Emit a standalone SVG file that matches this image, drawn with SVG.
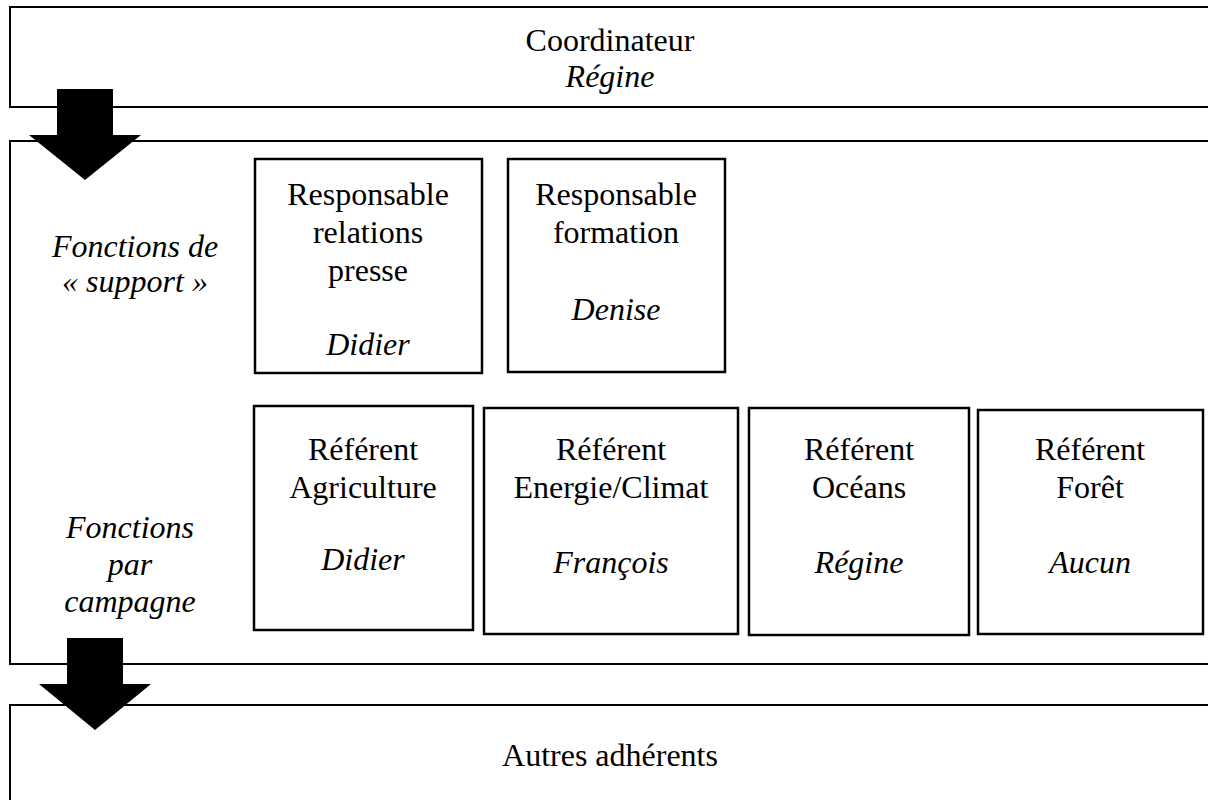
<svg xmlns="http://www.w3.org/2000/svg" width="1208" height="800" viewBox="0 0 1208 800">
  <style>
    .frame { fill: #fff; stroke: #000; stroke-width: 2; }
    .box { fill: #fff; stroke: #000; stroke-width: 2.5; }
    .arrow { fill: #000; stroke: none; }
    text { font-family: "Liberation Serif", "Times New Roman", serif; font-size: 32px; fill: #000; text-anchor: middle; }
    .it { font-style: italic; }
  </style>

  <!-- Top level: coordinator -->
  <g id="coordinateur">
    <rect class="frame" x="10" y="7" width="1220" height="100"/>
    <text x="610" y="51">Coordinateur</text>
    <text class="it" x="610" y="87">Régine</text>
  </g>

  <!-- Middle level: functions -->
  <g id="fonctions">
    <rect class="frame" x="10" y="141" width="1220" height="523"/>
  </g>

  <g id="label-support">
    <text class="it" x="135" y="257">Fonctions de</text>
    <text class="it" x="135" y="292">« support »</text>
  </g>

  <g id="label-campagne">
    <text class="it" x="130" y="538">Fonctions</text>
    <text class="it" x="130" y="575">par</text>
    <text class="it" x="130" y="612">campagne</text>
  </g>

  <g id="resp-presse">
    <rect class="box" x="255" y="159" width="227" height="214"/>
    <text x="368" y="205">Responsable</text>
    <text x="368" y="243">relations</text>
    <text x="368" y="281">presse</text>
    <text class="it" x="368" y="355">Didier</text>
  </g>

  <g id="resp-formation">
    <rect class="box" x="508" y="159" width="217" height="213"/>
    <text x="616" y="205">Responsable</text>
    <text x="616" y="243">formation</text>
    <text class="it" x="616" y="320">Denise</text>
  </g>

  <g id="ref-agriculture">
    <rect class="box" x="254" y="406" width="219" height="224"/>
    <text x="363" y="460">Référent</text>
    <text x="363" y="498">Agriculture</text>
    <text class="it" x="363" y="570">Didier</text>
  </g>

  <g id="ref-energie">
    <rect class="box" x="484" y="408" width="254" height="226"/>
    <text x="611" y="460">Référent</text>
    <text x="611" y="498">Energie/Climat</text>
    <text class="it" x="611" y="573">François</text>
  </g>

  <g id="ref-oceans">
    <rect class="box" x="749" y="408" width="220" height="227"/>
    <text x="859" y="460">Référent</text>
    <text x="859" y="498">Océans</text>
    <text class="it" x="859" y="573">Régine</text>
  </g>

  <g id="ref-foret">
    <rect class="box" x="978" y="410" width="225" height="224"/>
    <text x="1090" y="460">Référent</text>
    <text x="1090" y="498">Forêt</text>
    <text class="it" x="1090" y="573">Aucun</text>
  </g>

  <!-- Bottom level: members -->
  <g id="adherents">
    <rect class="frame" x="10" y="705" width="1220" height="120"/>
    <text x="610" y="766">Autres adhérents</text>
  </g>

  <!-- Block arrows between levels -->
  <g id="connectors">
    <polygon class="arrow" points="57,89 113,89 113,135 141,135 85,180 29,135 57,135"/>
    <polygon class="arrow" points="67,638 123,638 123,684 151,684 95,730 39,684 67,684"/>
  </g>
</svg>
